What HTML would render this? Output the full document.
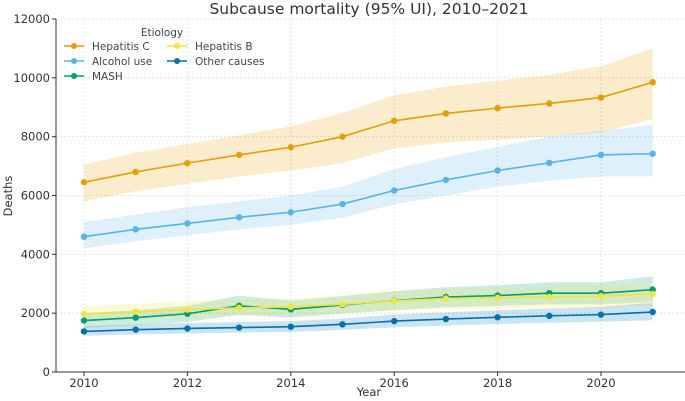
<!DOCTYPE html>
<html><head><meta charset="utf-8"><style>
body{margin:0;background:#fff;}
svg{display:block;font-family:"DejaVu Sans","Liberation Sans",sans-serif;}
</style></head><body>
<svg id="chart" width="685" height="401">
<text x="369" y="14" font-size="15.5" text-anchor="middle" fill="#333">Subcause mortality (95% UI), 2010–2021</text>
<text x="369" y="396" font-size="11.5" text-anchor="middle" fill="#333">Year</text>
<text x="12" y="196" font-size="11.5" text-anchor="middle" fill="#333" transform="rotate(-90 12 196)">Deaths</text>
<g id="grid"></g><g id="bands"></g><g id="lines"></g><g id="axes"></g><g id="legend"></g>
</svg>
<script>
const years=[2010,2011,2012,2013,2014,2015,2016,2017,2018,2019,2020,2021];
const yTicks=[0,2000,4000,6000,8000,10000,12000];
const xTicks=[2010,2012,2014,2016,2018,2020];
const hepC=[6450,6800,7100,7380,7640,8000,8540,8790,8970,9130,9330,9850];
const hepCLow=[5800,6150,6400,6650,6850,7100,7600,7800,7900,8000,8150,8600];
const hepCHigh=[7050,7450,7750,8050,8350,8800,9400,9700,9900,10100,10400,11000];
const alc=[4600,4850,5050,5260,5430,5710,6170,6530,6850,7110,7380,7420];
const alcLow=[4200,4450,4650,4850,5000,5250,5700,6000,6300,6500,6650,6650];
const alcHigh=[5100,5350,5600,5800,6000,6300,6900,7300,7650,8000,8200,8400];
const mash=[1750,1850,1980,2250,2130,2280,2430,2550,2600,2680,2680,2800];
const mashLow=[1500,1580,1700,1950,1850,1980,2100,2200,2250,2300,2300,2380];
const mashHigh=[2000,2100,2250,2600,2420,2580,2750,2880,2950,3050,3050,3250];
const hepB=[1970,2050,2120,2180,2220,2300,2420,2500,2520,2550,2580,2650];
const hepBLow=[1700,1780,1850,1900,1950,2000,2100,2150,2150,2180,2200,2250];
const hepBHigh=[2250,2320,2400,2450,2500,2600,2750,2820,2850,2900,2950,3000];
const other=[1380,1440,1480,1510,1540,1620,1730,1800,1860,1910,1950,2040];
const otherLow=[1230,1280,1310,1340,1360,1430,1520,1580,1630,1680,1710,1760];
const otherHigh=[1550,1610,1660,1700,1730,1820,1950,2030,2100,2160,2220,2350];
const series=[
 {name:'Hepatitis C',v:hepC,lo:hepCLow,hi:hepCHigh,c:'#E69F00'},
 {name:'Alcohol use',v:alc,lo:alcLow,hi:alcHigh,c:'#56B4E9'},
 {name:'MASH',v:mash,lo:mashLow,hi:mashHigh,c:'#009E73'},
 {name:'Hepatitis B',v:hepB,lo:hepBLow,hi:hepBHigh,c:'#F0E442'},
 {name:'Other causes',v:other,lo:otherLow,hi:otherHigh,c:'#0072B2'}];
const X=y=>84+(y-2010)*51.7;
const Y=v=>372-v*353/12000;
const NS='http://www.w3.org/2000/svg';
function mk(t,a,p){const e=document.createElementNS(NS,t);for(const k in a)e.setAttribute(k,a[k]);p.appendChild(e);return e;}
const grid=document.getElementById('grid'),axes=document.getElementById('axes');
yTicks.forEach(t=>{
 const l=mk('line',{x1:56,x2:685,y1:Y(t),y2:Y(t),stroke:'#ddd','stroke-dasharray':'2,2','stroke-width':0.8},grid);
 
 
 mk('line',{x1:52,x2:56,y1:Y(t),y2:Y(t),stroke:'#333'},axes);
 const tx=mk('text',{x:50,y:Y(t)+4,'font-size':11.5,'text-anchor':'end',fill:'#333'},axes);tx.textContent=t;
 
 
});
xTicks.forEach(t=>{
 const l=mk('line',{x1:X(t),x2:X(t),y1:19,y2:372,stroke:'#ddd','stroke-dasharray':'2,2','stroke-width':0.8},grid);
 
 
 mk('line',{x1:X(t),x2:X(t),y1:372,y2:376,stroke:'#333'},axes);
 const tx=mk('text',{x:X(t),y:387,'font-size':11.5,'text-anchor':'middle',fill:'#333'},axes);tx.textContent=t;
 
 
});
mk('line',{x1:56,x2:56,y1:19,y2:372,stroke:'#333','stroke-width':1},axes);
mk('line',{x1:56,x2:685,y1:372,y2:372,stroke:'#333','stroke-width':1},axes);
const bands=document.getElementById('bands'),lines=document.getElementById('lines');
series.forEach(s=>{
 let d=s.hi.map((v,i)=>(i?'L':'M')+X(years[i])+','+Y(v)).join('');
 for(let i=years.length-1;i>=0;i--)d+='L'+X(years[i])+','+Y(s.lo[i]);
 const b=mk('path',{d:d+'Z',fill:s.c,'fill-opacity':0.2},bands);
 
 
 const p=mk('polyline',{points:s.v.map((v,i)=>X(years[i])+','+Y(v)).join(' '),fill:'none',stroke:s.c,'stroke-width':1.6},lines);
 
 
 s.v.forEach((v,i)=>{const c=mk('circle',{cx:X(years[i]),cy:Y(v),r:3.2,fill:s.c},lines);
  
  });
});
const lg=document.getElementById('legend');
const tt=mk('text',{x:162,y:36,'font-size':10.5,'text-anchor':'middle',fill:'#444'},lg);tt.textContent='Etiology';


const pos=[[64,46],[64,61],[64,76],[167,46],[167,61]];
series.forEach((s,i)=>{const [x,y]=pos[i];
 const g=mk('g',{},lg);
 
 
 mk('line',{x1:x,x2:x+20,y1:y,y2:y,stroke:s.c,'stroke-width':1.6},g);
 mk('circle',{cx:x+10,cy:y,r:3,fill:s.c},g);
 const t=mk('text',{x:x+28,y:y+4,'font-size':10.5,fill:'#444'},g);t.textContent=s.name;});
</script>
</body></html>
